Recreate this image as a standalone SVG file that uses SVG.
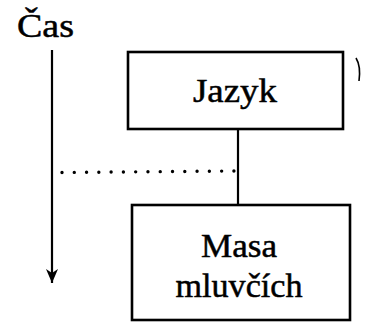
<svg xmlns="http://www.w3.org/2000/svg" width="365" height="323" viewBox="0 0 365 323">
<defs>
<style>
.box{fill:#fff;stroke:#000;stroke-width:2.6}
.t{font-family:'Liberation Serif','Times New Roman',serif;font-size:34px;fill:#000;stroke:#000;stroke-width:0.5}
.ln{stroke:#000;stroke-width:2.2;fill:none}
</style>
<marker id="ah" markerUnits="userSpaceOnUse" markerWidth="16" markerHeight="12" refX="14" refY="6" orient="auto">
<path d="M0,0 L14,6 L0,12 L4,6 Z" fill="#000"/>
</marker>
</defs>
<rect width="365" height="323" fill="#fff"/>
<g id="time">
<text class="t" x="17" y="37" textLength="57" lengthAdjust="spacingAndGlyphs">Čas</text>
<line class="ln" x1="52" y1="50" x2="52" y2="283" stroke-width="1.8" marker-end="url(#ah)"/>
</g>
<g id="connectors">
<line class="ln" x1="238" y1="129" x2="238" y2="205"/>
<line x1="62" y1="172.5" x2="234" y2="171" stroke="#000" stroke-width="3.4" stroke-linecap="round" stroke-dasharray="0 12.28"/>
</g>
<g id="jazyk">
<rect class="box" x="128" y="52" width="215" height="77"/>
<text class="t" x="235" y="102" text-anchor="middle" textLength="84" lengthAdjust="spacingAndGlyphs">Jazyk</text>
</g>
<g id="masa">
<rect class="box" x="132" y="205" width="218" height="115"/>
<text class="t" x="239" y="257" text-anchor="middle" textLength="76" lengthAdjust="spacingAndGlyphs">Masa</text>
<text class="t" x="239" y="297" text-anchor="middle" textLength="127" lengthAdjust="spacingAndGlyphs">mluvčích</text>
</g>
<path d="M356,58 Q361,66 359,81" fill="none" stroke="#000" stroke-width="1.6"/>
</svg>
